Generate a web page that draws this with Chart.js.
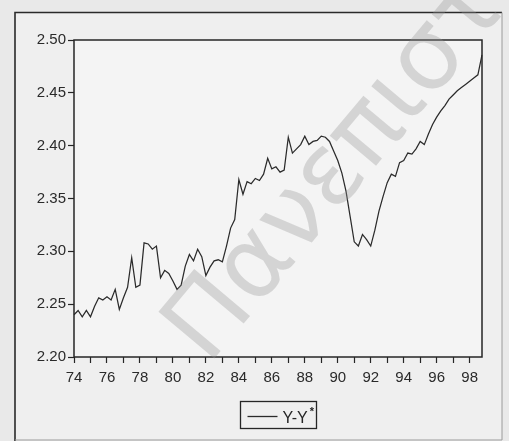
<!DOCTYPE html>
<html>
<head>
<meta charset="utf-8">
<script src="https://cdn.jsdelivr.net/npm/chart.js@4/dist/chart.umd.min.js"></script>
<style>
  html, body { margin: 0; padding: 0; background: #e9e9e9; }
  #wrap { width: 509px; height: 441px; }
</style>
</head>
<body>
<div id="wrap"><canvas id="c" width="509" height="441"></canvas></div>
<script>
// Quarterly observations, 1974Q1 - 1998Q4
const years = [74, 75, 76, 77, 78, 79, 80, 81, 82, 83, 84, 85, 86,
               87, 88, 89, 90, 91, 92, 93, 94, 95, 96, 97, 98];
const quarters = ['Q1', 'Q2', 'Q3', 'Q4'];

// Y - Y* (quarterly)
const gapValues = [
  2.240, 2.244, 2.238, 2.244, 2.238, 2.248, 2.256, 2.254, 2.257, 2.254,
  2.264, 2.245, 2.256, 2.266, 2.294, 2.266, 2.268, 2.308, 2.307, 2.302,
  2.305, 2.275, 2.282, 2.279, 2.272, 2.264, 2.268, 2.286, 2.297, 2.291,
  2.302, 2.295, 2.277, 2.285, 2.291, 2.292, 2.290, 2.305, 2.322, 2.330,
  2.368, 2.354, 2.366, 2.364, 2.369, 2.367, 2.373, 2.388, 2.378, 2.380,
  2.375, 2.377, 2.408, 2.393, 2.397, 2.401, 2.409, 2.401, 2.404, 2.405,
  2.409, 2.408, 2.404, 2.395, 2.386, 2.374, 2.357, 2.333, 2.309, 2.305,
  2.316, 2.311, 2.305, 2.320, 2.338, 2.352, 2.365, 2.373, 2.371, 2.384,
  2.386, 2.393, 2.392, 2.397, 2.404, 2.401, 2.411, 2.420, 2.427, 2.433,
  2.438, 2.444, 2.448, 2.452, 2.455, 2.458, 2.461, 2.464, 2.467, 2.486
];

const yTicks = [2.20, 2.25, 2.30, 2.35, 2.40, 2.45, 2.50];
const seriesName = 'Y-Y*';
const watermarkText = 'Πανεπιστήμιο';

const periods = [];
years.forEach(y => quarters.forEach(q => periods.push(String(y) + q)));

const INK = '#262626';
const FONT = '"Liberation Sans", Arial, sans-serif';

const framePlugin = {
  id: 'frame',
  beforeDraw(chart) {
    const ctx = chart.ctx;
    const a = chart.chartArea;
    ctx.save();
    ctx.fillStyle = '#e9e9e9';
    ctx.fillRect(0, 0, chart.width, chart.height);
    // outer graph frame
    ctx.fillStyle = '#efefef';
    ctx.fillRect(15, 12, 487, 440);
    ctx.strokeStyle = '#2a2a2a';
    ctx.lineWidth = 1.6;
    ctx.beginPath();
    ctx.moveTo(15, 450); ctx.lineTo(15, 12.5); ctx.lineTo(502, 12.5);
    ctx.stroke();
    ctx.strokeStyle = '#9a9a9a';
    ctx.lineWidth = 1;
    ctx.beginPath();
    ctx.moveTo(502, 12.5); ctx.lineTo(502, 440); ctx.lineTo(15, 440);
    ctx.stroke();
    // plot area
    ctx.fillStyle = '#f4f4f4';
    ctx.fillRect(a.left, a.top, a.right - a.left, a.bottom - a.top);
    ctx.restore();
  },
  afterDraw(chart) {
    const ctx = chart.ctx;
    const a = chart.chartArea;
    ctx.save();
    // plot box
    ctx.strokeStyle = INK;
    ctx.lineWidth = 1.5;
    ctx.strokeRect(a.left, a.top, a.right - a.left, a.bottom - a.top);

    // legend
    const ds = chart.data.datasets[0];
    const lx = 240.5, ly = 401.5, lw = 76, lh = 27;
    ctx.lineWidth = 1.3;
    ctx.strokeStyle = INK;
    ctx.strokeRect(lx, ly, lw, lh);
    ctx.strokeStyle = ds.borderColor;
    ctx.lineWidth = 1.3;
    ctx.beginPath();
    ctx.moveTo(lx + 7, ly + 15); ctx.lineTo(lx + 37, ly + 15);
    ctx.stroke();
    ctx.fillStyle = INK;
    ctx.font = '16px ' + FONT;
    ctx.textBaseline = 'alphabetic';
    ctx.textAlign = 'left';
    const base = ds.label.replace('*', '');
    ctx.fillText(base, lx + 42, ly + 21);
    const w = ctx.measureText(base).width;
    ctx.font = 'bold 11px ' + FONT;
    ctx.fillText('*', lx + 44 + w, ly + 13);

    // watermark
    ctx.translate(208, 366);
    ctx.rotate(-50 * Math.PI / 180);
    ctx.font = '100px "DejaVu Sans", sans-serif';
    ctx.fillStyle = 'rgba(150,150,150,0.33)';
    ctx.textAlign = 'left';
    ctx.fillText(watermarkText, 0, 0);
    ctx.restore();
  }
};

new Chart(document.getElementById('c'), {
  type: 'line',
  data: {
    labels: periods,
    datasets: [{
      label: seriesName,
      data: gapValues,
      borderColor: '#2b2b2b',
      borderWidth: 1.25,
      pointRadius: 0,
      tension: 0,
      fill: false
    }]
  },
  options: {
    responsive: false,
    animation: false,
    devicePixelRatio: 1,
    layout: { padding: { left: 0, top: 40, right: 27, bottom: 0 } },
    plugins: { legend: { display: false }, tooltip: { enabled: false } },
    scales: {
      x: {
        type: 'category',
        offset: false,
        afterFit: s => { s.height = 84; },
        grid: {
          offset: false,
          drawOnChartArea: false,
          drawTicks: true,
          tickLength: 6,
          tickWidth: 1.2,
          tickColor: c => (c.index % 4 === 0 ? INK : 'rgba(0,0,0,0)'),
          color: 'rgba(0,0,0,0)'
        },
        border: { display: false },
        ticks: {
          autoSkip: false,
          maxRotation: 0,
          minRotation: 0,
          padding: 6,
          color: '#2a2a2a',
          font: { family: FONT, size: 15 },
          callback: (v, i) => (i % 8 === 0 ? periods[i].slice(0, 2) : '')
        }
      },
      y: {
        min: 2.20,
        max: 2.50,
        afterFit: s => { s.width = 74; },
        afterBuildTicks: s => { s.ticks = yTicks.map(v => ({ value: v })); },
        grid: {
          drawOnChartArea: false,
          drawTicks: true,
          tickLength: 6,
          tickWidth: 1.2,
          tickColor: INK,
          color: 'rgba(0,0,0,0)'
        },
        border: { display: false },
        ticks: {
          padding: 2,
          color: '#2a2a2a',
          font: { family: FONT, size: 15 },
          callback: v => Number(v).toFixed(2)
        }
      }
    }
  },
  plugins: [framePlugin]
});
</script>
</body>
</html>
